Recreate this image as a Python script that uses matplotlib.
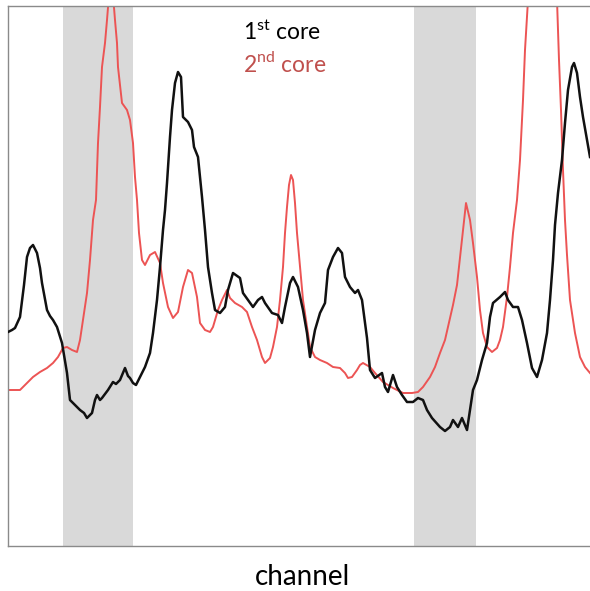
import matplotlib
matplotlib.use("Agg")
import matplotlib.pyplot as plt

plt.rcParams["font.family"] = ["Lato", "DejaVu Sans"]
plt.rcParams["mathtext.fontset"] = "custom"
plt.rcParams["mathtext.rm"] = "Lato"

# first core trace (channel, counts)
core1_channel = [0, 4, 7, 12, 16, 19, 22, 25, 29, 32, 34, 39, 42, 45, 49, 54, 59, 62, 67, 72,
                 76, 79, 84, 87, 89, 92, 94, 100, 105, 108, 112, 117, 120, 122, 125, 128, 132,
                 137, 142, 145, 149, 152, 155, 157, 159, 162, 164, 167, 170, 173, 175, 180,
                 184, 186, 190, 192, 194, 197, 200, 204, 207, 212, 217, 220, 225, 232, 235,
                 240, 245, 250, 254, 257, 264, 270, 274, 277, 282, 285, 290, 295, 299, 302,
                 307, 312, 317, 320, 325, 330, 334, 337, 342, 347, 350, 354, 359, 362, 367,
                 374, 377, 380, 385, 389, 394, 399, 405, 410, 415, 419, 424, 432, 437, 442,
                 445, 450, 454, 459, 462, 465, 469, 474, 479, 482, 485, 492, 497, 500, 505,
                 510, 514, 519, 524, 529, 534, 539, 542, 545, 547, 550, 554, 557, 560, 564,
                 566, 569, 572, 575, 579, 582]
core1_counts = [214, 216, 218, 229, 261, 289, 298, 301, 293, 278, 263, 236, 230, 226, 219, 203,
                173, 146, 141, 136, 133, 128, 133, 146, 151, 146, 148, 156, 164, 162, 166, 178,
                170, 168, 163, 161, 169, 179, 193, 213, 246, 279, 316, 336, 363, 409, 436, 463,
                474, 469, 429, 424, 416, 399, 389, 369, 349, 316, 279, 253, 236, 233, 239, 256,
                273, 268, 253, 246, 239, 246, 249, 243, 233, 231, 223, 239, 263, 269, 259, 236,
                213, 189, 216, 233, 243, 276, 289, 298, 293, 269, 259, 253, 256, 246, 208, 176,
                168, 173, 159, 154, 171, 159, 151, 144, 144, 148, 146, 136, 128, 119, 115, 119,
                126, 119, 128, 116, 136, 156, 166, 186, 203, 229, 243, 249, 254, 246, 239, 239,
                226, 203, 178, 169, 186, 213, 246, 286, 321, 353, 386, 423, 456, 479, 483, 473,
                449, 429, 406, 389]

# second core trace (channel, counts)
core2_channel = [0, 12, 17, 25, 32, 39, 45, 50, 55, 59, 64, 69, 72, 75, 79, 82, 85, 88, 90, 92,
                 94, 97, 99, 101, 103, 105, 107, 109, 110, 114, 119, 122, 125, 127, 129, 131,
                 134, 137, 142, 147, 152, 155, 160, 165, 170, 175, 180, 184, 189, 192, 197,
                 202, 205, 210, 214, 219, 222, 227, 234, 239, 244, 249, 254, 257, 262, 265,
                 269, 272, 275, 277, 279, 281, 283, 285, 287, 289, 292, 295, 299, 302, 307,
                 312, 319, 325, 332, 337, 340, 344, 349, 352, 355, 362, 367, 375, 385, 395,
                 404, 410, 415, 422, 427, 432, 437, 442, 445, 449, 452, 455, 458, 462, 465,
                 469, 472, 475, 479, 484, 489, 492, 495, 499, 502, 505, 509, 512, 515, 517,
                 519, 520, 527, 537, 547, 549, 551, 553, 555, 557, 559, 562, 567, 572, 577, 582]
core2_counts = [156, 156, 161, 169, 174, 178, 183, 189, 198, 199, 196, 194, 206, 226, 253, 286,
                326, 346, 403, 439, 479, 503, 526, 551, 561, 551, 526, 503, 479, 443, 436, 426,
                403, 369, 346, 313, 286, 281, 291, 294, 283, 263, 239, 228, 234, 259, 276, 273,
                249, 223, 216, 214, 219, 236, 246, 256, 248, 243, 239, 234, 219, 206, 189, 183,
                188, 199, 219, 246, 279, 313, 339, 361, 371, 366, 343, 313, 279, 246, 219, 199,
                189, 186, 183, 179, 178, 173, 168, 169, 176, 181, 183, 179, 173, 164, 158, 153,
                153, 154, 159, 169, 179, 193, 206, 228, 241, 261, 288, 316, 343, 326, 303, 269,
                236, 213, 199, 194, 198, 206, 219, 249, 279, 313, 346, 386, 446, 496, 529, 546,
                576, 576, 551, 546, 486, 436, 376, 326, 291, 246, 213, 189, 179, 173]

# shaded channel windows
windows = [(55, 125), (406, 468)]

fig = plt.figure(figsize=(5.9, 5.91), dpi=100)
ax = fig.add_axes([8 / 590, 45 / 591, 582 / 590, 540 / 591])

for lo, hi in windows:
    ax.axvspan(lo, hi, color="#d9d9d9", lw=0, zorder=0)

ax.plot(core2_channel, core2_counts, color="#ec5454", lw=1.4, zorder=2)
ax.plot(core1_channel, core1_counts, color="#111111", lw=1.8, zorder=3)

ax.set_xlim(0, 582)
ax.set_ylim(0, 540)
ax.set_xticks([])
ax.set_yticks([])
ax.spines["right"].set_visible(False)
for side in ("left", "top", "bottom"):
    ax.spines[side].set_color("#8a8a8a")
    ax.spines[side].set_linewidth(1.0)

fig.text(243 / 590, 551 / 591, r"1$^{\mathrm{st}}$ core", color="black",
         fontsize=16.5, va="baseline", ha="left")
fig.text(243 / 590, 519 / 591, r"2$^{\mathrm{nd}}$ core", color="#c0504d",
         fontsize=16.5, va="baseline", ha="left")
fig.text(303 / 590, 1 / 591, "channel", color="black", fontsize=20,
         va="bottom", ha="center")

fig.savefig("out.png", dpi=100)
